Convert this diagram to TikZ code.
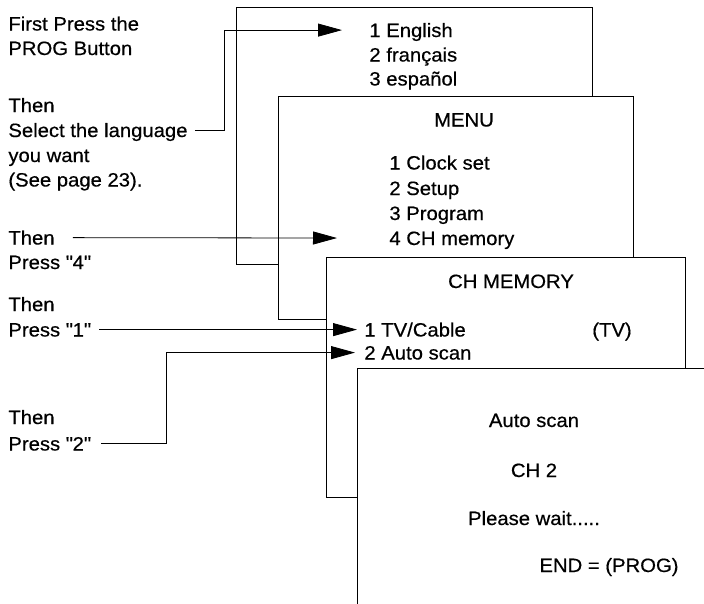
\documentclass[tikz,border=0pt]{standalone}
\usepackage{fontspec}
\setmainfont{Liberation Sans}[FakeStretch=1.05, FakeBold=0.5]
\usetikzlibrary{arrows.meta}

\begin{document}
\begin{tikzpicture}[x=1pt, y=-1pt, line width=0.8pt,
	every node/.style={font=\fontsize{19.3pt}{24pt}\selectfont, inner sep=0pt, text height=13.8pt, text depth=0pt},
	step text/.style={anchor=base west},
	item/.style={anchor=base west},
	title/.style={anchor=base},
	screen/.style={draw, fill=white, anchor=north west},
	link/.style={draw, -{Triangle[length=24pt,width=13pt]}}]
	\path[use as bounding box, clip] (0,0) rectangle (704,603);
	% the four screens, each one in front of the last
	\node[screen, minimum width=356pt, minimum height=257pt] (langscr) at (236,7) {};
	\node[screen, minimum width=355pt, minimum height=223pt] (menuscr) at (278,96) {};
	\node[screen, minimum width=359pt, minimum height=240pt] (chscr) at (326,257) {};
	\node[screen, minimum width=400pt, minimum height=300pt] (scanscr) at (357,368) {};
	% steps
	\node[step text] (first) at (8,30.5) {First Press the};
	\node[step text] (prog) at (8,55) {PROG Button};
	\node[step text] (then1) at (8,112) {Then};
	\node[step text] (select) at (8,137) {Select the language};
	\node[step text] (want) at (8,162) {you want};
	\node[step text] (page) at (8,186.5) {(See page 23).};
	\node[step text] (then2) at (8,244.5) {Then};
	\node[step text] (press4) at (8,269) {Press \textquotedbl 4\textquotedbl};
	\node[step text] (then3) at (8,311) {Then};
	\node[step text] (press1) at (8,336.5) {Press \textquotedbl 1\textquotedbl};
	\node[step text] (then4) at (8,424) {Then};
	\node[step text] (press2) at (8,450.5) {Press \textquotedbl 2\textquotedbl};
	% language screen
	\node[item] (eng) at (369,37) {1 English};
	\node[item] (fra) at (369,61.5) {2 français};
	\node[item] (esp) at (369,85.5) {3 español};
	% menu screen
	\node[title] (menu) at (464,126.5) {MENU};
	\node[item] (clock) at (389,169.5) {1 Clock set};
	\node[item] (setup) at (389,195) {2 Setup};
	\node[item] (program) at (389,220) {3 Program};
	\node[item] (chmem) at (389,245) {4 CH memory};
	% channel memory screen
	\node[title] (chtitle) at (511,288) {CH MEMORY};
	\node[item] (tv) at (364,336.5) {1 TV/Cable};
	\node[title] (tvval) at (612,336.5) {(TV)};
	\node[item] (auto) at (364,359.5) {2 Auto scan};
	% auto scan screen
	\node[title] (scan) at (534,427) {Auto scan};
	\node[title] (ch) at (534,477) {CH 2};
	\node[title] (wait) at (534,525) {Please wait.....};
	\node[title] (end) at (609,572) {END = (PROG)};
	% connectors
	\coordinate (jogsel) at (224,0);
	\coordinate (jogtwo) at (166,0);
	\draw[link, shorten <=7pt, shorten >=27pt] (select.east) -- (select.east -| jogsel) |- (eng.west);
	\draw[link, shorten <=18pt, shorten >=52pt] (then2.east) -- (chmem.west);
	\draw[link, shorten <=8pt, shorten >=7pt] (press1.east) -- (tv.west);
	\draw[link, shorten <=10pt, shorten >=9pt] (press2.east) -- (press2.east -| jogtwo) |- (auto.west);
\end{tikzpicture}
\end{document}
